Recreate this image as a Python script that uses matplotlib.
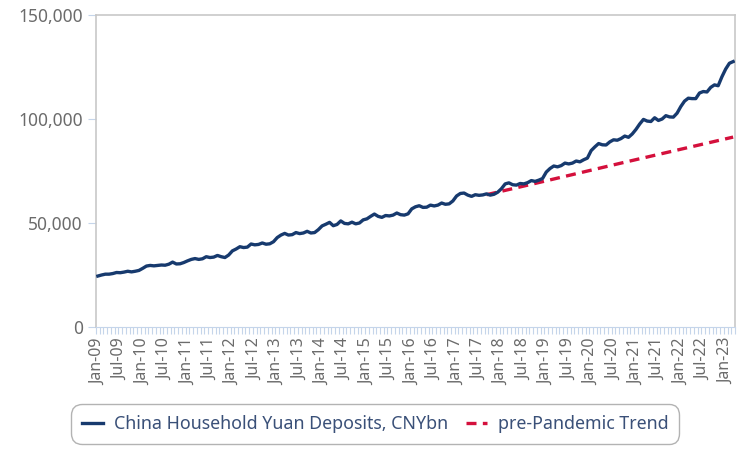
import matplotlib.pyplot as plt
import pandas as pd

# monthly household deposits, CNY bn, Jan-09 .. Mar-23
deposits = [
    # 2009
    24500, 25000, 25400, 25400, 25700, 26200, 26100, 26400, 26800, 26500, 26800, 27200,
    # 2010
    28200, 29300, 29600, 29400, 29600, 29800, 29700, 30200, 31200, 30300, 30400, 31000,
    # 2011
    31800, 32500, 32900, 32500, 32800, 33800, 33400, 33600, 34400, 33800, 33400, 34600,
    # 2012
    36600, 37500, 38600, 38200, 38400, 39900, 39500, 39700, 40400, 39800, 40000, 41000,
    # 2013
    43000, 44200, 45000, 44200, 44400, 45400, 44900, 45200, 46000, 45200, 45400, 46800,
    # 2014
    48600, 49400, 50300, 48700, 49300, 51000, 49800, 49600, 50400, 49600, 50000, 51500,
    # 2015
    52000, 53200, 54300, 53200, 52700, 53600, 53400, 53800, 54800, 54000, 53800, 54400,
    # 2016
    56800, 57800, 58300, 57500, 57600, 58600, 58200, 58600, 59600, 59000, 59200, 60600,
    # 2017
    63000, 64200, 64400, 63400, 62800, 63600, 63300, 63500, 64000, 63400, 63800, 64800,
    # 2018
    66500, 68800, 69300, 68400, 68200, 69000, 68800, 69400, 70400, 70000, 70600, 71400,
    # 2019
    74500, 76200, 77400, 77000, 77600, 78800, 78400, 78800, 79800, 79400, 80400, 81200,
    # 2020
    84800, 86600, 88200, 87600, 87500, 89000, 90000, 89800, 90600, 91800, 91200, 92800,
    # 2021
    95000, 97600, 99800, 99000, 98800, 100600, 99300, 100000, 101600, 101000, 100900, 102800,
    # 2022
    106000, 108600, 110000, 109800, 109800, 112500, 113200, 113000, 115200, 116400, 116000, 120300,
    # 2023
    124000, 126800, 127600,
]

# pre-pandemic trend, read at a few months (it is a straight dashed line)
trend_months = ["2017-09", "2018-09", "2019-09", "2020-09", "2021-09", "2022-09", "2023-03"]
trend_values = [63600, 68600, 73700, 78800, 83800, 88800, 91300]

months = pd.date_range("2009-01-01", periods=len(deposits), freq="MS")
labels = [d.strftime("%b-%y") for d in months]
month_pos = {d.strftime("%Y-%m"): i for i, d in enumerate(months)}
trend_x = [month_pos[m] for m in trend_months]

plt.rcParams['font.family'] = ['Noto Sans', 'DejaVu Sans']

fig = plt.figure(figsize=(7.5, 4.69), dpi=100)
ax = fig.add_axes([96 / 750, 1 - 327 / 469, 639 / 750, 312 / 469])

navy = "#173a6e"
red = "#d4103c"
ax.plot(range(len(deposits)), deposits, color=navy, lw=2.4,
        label="China Household Yuan Deposits, CNYbn", zorder=3)
ax.plot(trend_x, trend_values, color=red, lw=2.4, ls=(0, (3.0, 1.9)),
        label="pre-Pandemic Trend", zorder=2)

ax.set_xlim(-0.5, len(deposits) - 0.5)
ax.set_ylim(0, 150000)
ax.set_yticks([0, 50000, 100000, 150000])
ax.set_yticklabels(["0", "50,000", "100,000", "150,000"])

major = list(range(0, len(deposits), 6))
ax.set_xticks(major)
ax.set_xticklabels([labels[i] for i in major], rotation=90)
ax.set_xticks([i - 0.5 for i in range(len(deposits) + 1)], minor=True)

for side in ["top", "right", "left"]:
    ax.spines[side].set_color("#c8c8c8")
    ax.spines[side].set_linewidth(1.2)
ax.spines["bottom"].set_color("#c5d5ea")

ax.tick_params(axis="y", colors="#c5d5ea", labelcolor="#6b6b6b",
               labelsize=12.5, length=6, direction="out")
ax.tick_params(axis="x", which="major", length=0, labelcolor="#6b6b6b",
               labelsize=11.5, pad=8)
ax.tick_params(axis="x", which="minor", colors="#c5d5ea", length=5,
               direction="out", width=0.8)

leg = fig.legend(loc="center left", bbox_to_anchor=(66 / 750, 1 - 424 / 469),
                 ncol=2, frameon=True, fontsize=12.8, handlelength=1.2,
                 columnspacing=1.0, handletextpad=0.6, borderpad=0.4)
leg.get_frame().set_edgecolor("#a0a0a0")
leg.get_frame().set_linewidth(1.0)
leg.get_frame().set_boxstyle("round,pad=0.2,rounding_size=0.6")
for t in leg.get_texts():
    t.set_color("#3a5078")

fig.savefig("out.png", dpi=100)
